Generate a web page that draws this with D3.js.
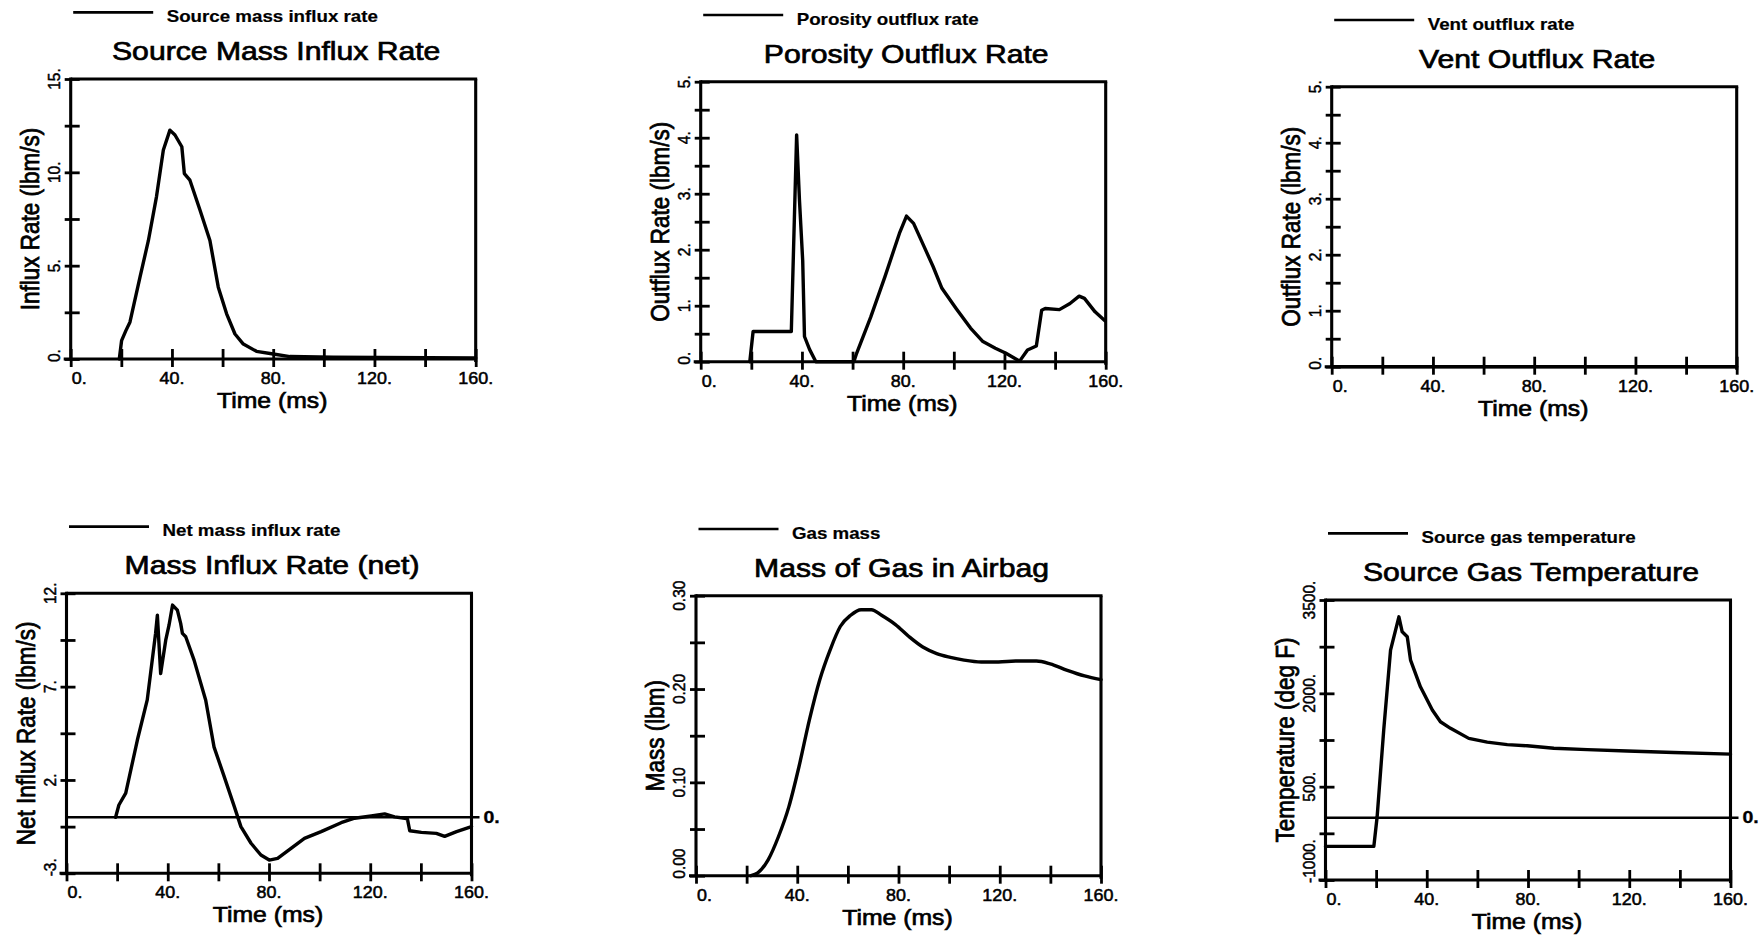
<!DOCTYPE html>
<html><head><meta charset="utf-8">
<script src="https://cdn.jsdelivr.net/npm/d3@7/dist/d3.min.js"></script>
<style>
body{margin:0;background:#fff}
svg{display:block}
text{font-family:"Liberation Sans", Arial, Helvetica, sans-serif;fill:#000}
</style></head><body>
<svg id="chart" width="1764" height="938"></svg>
<script>
// ---------------- data ----------------
const xTickValues = [0, 40, 80, 120, 160];
const xTickText = ["0.", "40.", "80.", "120.", "160."];

const sourceTime = [19.2, 20.1, 21.8, 23.4, 27.4, 30.7, 33.9, 36.6, 39.2, 41.2, 43.9, 44.9, 47.1, 51.1, 55.0, 58.3, 61.6, 64.9, 68.2, 73.4, 80, 86.6, 103.7, 160];
const sourceRate = [0, 0.98, 1.52, 1.97, 4.4, 6.35, 8.7, 11.2, 12.26, 12.0, 11.37, 9.93, 9.58, 7.97, 6.35, 3.85, 2.42, 1.34, 0.8, 0.41, 0.27, 0.13, 0.09, 0.05];
const sourceYTickValues = [0, 5, 10, 15];
const sourceYTickText = ["0.", "5.", "10.", "15."];

const porosityTime = [19.4, 20.7, 35.8, 37.9, 39.0, 40.3, 41.0, 43.0, 45.5, 60.5, 61.6, 67.2, 72.8, 78.5, 81.3, 84.1, 88.3, 91.8, 95.3, 100.9, 106.6, 111.5, 116.4, 120.6, 126, 129.1, 132.6, 134.7, 136.1, 141.7, 145.9, 149.5, 151.6, 155.8, 159.7];
const porosityRate = [0, 0.54, 0.54, 4.05, 2.9, 1.8, 0.45, 0.22, 0, 0, 0.15, 0.80, 1.52, 2.29, 2.60, 2.47, 2.05, 1.70, 1.31, 0.95, 0.60, 0.36, 0.24, 0.15, 0.01, 0.21, 0.28, 0.92, 0.95, 0.93, 1.04, 1.17, 1.13, 0.89, 0.73];
const porosityYTickValues = [0, 1, 2, 3, 4, 5];
const porosityYTickText = ["0.", "1.", "2.", "3.", "4.", "5."];

const ventTime = [0, 160];
const ventRate = [0, 0];
const ventYTickValues = [0, 1, 2, 3, 4, 5];
const ventYTickText = ["0.", "1.", "2.", "3.", "4.", "5."];

const netTime = [19.4, 20.7, 23.4, 28.0, 31.9, 35.2, 35.9, 37.2, 39.2, 40.5, 41.9, 43.8, 45.1, 45.8, 47.1, 50.4, 55.0, 58.3, 62.3, 66.3, 68.9, 72.9, 76.8, 80.1, 83.4, 88.7, 94.0, 100.6, 108.5, 113.8, 120.4, 125.7, 129.6, 133.6, 134.7, 135.6, 140.2, 146.1, 149.4, 154.1, 160];
const netRate = [0, 0.66, 1.29, 4.14, 6.29, 9.86, 10.83, 7.70, 9.49, 10.29, 11.37, 11.1, 10.39, 9.85, 9.67, 8.42, 6.27, 3.76, 2.18, 0.57, -0.5, -1.39, -2.02, -2.29, -2.2, -1.66, -1.13, -0.77, -0.29, -0.05, 0.07, 0.18, 0.02, -0.05, -0.1, -0.72, -0.81, -0.86, -1.02, -0.77, -0.5];
const netYTickValues = [-3, 2, 7, 12];
const netYTickText = ["-3.", "2.", "7.", "12."];

const gasTime = [21.7, 24.4, 28.5, 32.6, 36.7, 40.7, 44.8, 48.9, 53.0, 57.0, 61.1, 65.2, 69.3, 73.3, 78.8, 84.2, 89.6, 95.1, 100.5, 105.9, 112.7, 119.5, 126.3, 134.5, 139.9, 146.7, 153.5, 160];
const gasMass = [0, 0.003, 0.017, 0.042, 0.074, 0.117, 0.167, 0.21, 0.242, 0.267, 0.279, 0.285, 0.285, 0.279, 0.269, 0.256, 0.245, 0.238, 0.234, 0.231, 0.229, 0.229, 0.23, 0.23, 0.227, 0.22, 0.214, 0.21];
const gasYTickValues = [0, 0.1, 0.2, 0.3];
const gasYTickText = ["0.00", "0.10", "0.20", "0.30"];

const tempTime = [0, 19.1, 20.4, 23.0, 25.7, 29.0, 30.3, 32.3, 33.6, 37.5, 42.2, 45.4, 49.4, 56.6, 63.9, 71.8, 79.7, 90.2, 103.4, 119.2, 137.6, 160];
const tempValue = [-460, -460, 16, 1410, 2695, 3230, 2989, 2909, 2535, 2105, 1731, 1543, 1437, 1276, 1216, 1176, 1157, 1117, 1096, 1074, 1048, 1023];
const tempYTickValues = [-1000, 500, 2000, 3500];
const tempYTickText = ["-1000.", "500.", "2000.", "3500."];

// ---------------- layout ----------------
const W = 405, H = 280, K = 1.16;
const panels = [
  {title:"Source Mass Influx Rate", legend:"Source mass influx rate", ylab:"Influx Rate (lbm/s)",
   t:sourceTime, v:sourceRate, yd:[0,15], minor:2.5, yv:sourceYTickValues, yt:sourceYTickText, left:70.7, top:79, zero:false},
  {title:"Porosity Outflux Rate", legend:"Porosity outflux rate", ylab:"Outflux Rate (lbm/s)",
   t:porosityTime, v:porosityRate, yd:[0,5], minor:0.5, yv:porosityYTickValues, yt:porosityYTickText, left:700.7, top:81.7, zero:false},
  {title:"Vent Outflux Rate", legend:"Vent outflux rate", ylab:"Outflux Rate (lbm/s)",
   t:ventTime, v:ventRate, yd:[0,5], minor:0.5, yv:ventYTickValues, yt:ventYTickText, left:1331.7, top:86.7, zero:false},
  {title:"Mass Influx Rate (net)", legend:"Net mass influx rate", ylab:"Net Influx Rate (lbm/s)",
   t:netTime, v:netRate, yd:[-3,12], minor:2.5, yv:netYTickValues, yt:netYTickText, left:66.5, top:593.3, zero:true},
  {title:"Mass of Gas in Airbag", legend:"Gas mass", ylab:"Mass (lbm)",
   t:gasTime, v:gasMass, yd:[0,0.3], minor:0.05, yv:gasYTickValues, yt:gasYTickText, left:696, top:595.7, zero:false, smooth:true},
  {title:"Source Gas Temperature", legend:"Source gas temperature", ylab:"Temperature (deg F)",
   t:tempTime, v:tempValue, yd:[-1000,3500], minor:750, yv:tempYTickValues, yt:tempYTickText, left:1325.5, top:600, zero:true}
];

const svg = d3.select("#chart");

function hText(g, str, x, y, size, weight, anchor, k, sw){
  return g.append("text").text(str)
    .attr("transform", `translate(${x},${y}) scale(${k},1)`)
    .attr("font-size", size).attr("font-weight", weight)
    .attr("text-anchor", anchor)
    .attr("stroke", "#000").attr("stroke-width", sw || 0);
}
function vText(g, str, x, y, size, weight, anchor, k, sw){
  return g.append("text").text(str)
    .attr("transform", `translate(${x},${y}) scale(${k},1) rotate(-90)`)
    .attr("font-size", size).attr("font-weight", weight)
    .attr("text-anchor", anchor)
    .attr("stroke", "#000").attr("stroke-width", sw || 0);
}

panels.forEach(p => {
  const g = svg.append("g");
  const L = p.left, T = p.top, R = L + W, B = T + H;
  const x = d3.scaleLinear().domain([0,160]).range([L, R]);
  const y = d3.scaleLinear().domain(p.yd).range([B, T]);

  // legend
  g.append("line").attr("x1", L+2.5).attr("x2", L+82.5).attr("y1", T-66.7).attr("y2", T-66.7)
    .attr("stroke","#000").attr("stroke-width",2.7);
  hText(g, p.legend, L+96, T-57, 16, "bold", "start", 1.17, 0.2);

  // title
  hText(g, p.title, (L+R)/2+3, T-19, 26, "normal", "middle", K, 0.7);

  // frame
  const fw = 3.1;
  g.append("line").attr("x1", L).attr("x2", R+1.5).attr("y1", T).attr("y2", T).attr("stroke","#000").attr("stroke-width",fw);
  g.append("line").attr("x1", R).attr("x2", R).attr("y1", T).attr("y2", B+3).attr("stroke","#000").attr("stroke-width",fw);
  g.append("line").attr("x1", L).attr("x2", L).attr("y1", T-1.5).attr("y2", B).attr("stroke","#000").attr("stroke-width",fw);
  g.append("line").attr("x1", L-7).attr("x2", R).attr("y1", B).attr("y2", B).attr("stroke","#000").attr("stroke-width",fw);

  // x ticks
  const xa = g.append("g").attr("transform", `translate(0,${B})`)
    .call(d3.axisBottom(x).tickValues(d3.range(0,161,20)).tickFormat("").tickSizeOuter(0));
  xa.select(".domain").remove();
  xa.selectAll(".tick line").attr("y1",-10).attr("y2",8).attr("stroke","#000").attr("stroke-width",2.8);

  // y ticks
  const minorVals = d3.range(p.yd[0], p.yd[1] + p.minor/2, p.minor);
  const ya = g.append("g").attr("transform", `translate(${L},0)`)
    .call(d3.axisLeft(y).tickValues(minorVals).tickFormat("").tickSizeOuter(0));
  ya.select(".domain").remove();
  ya.selectAll(".tick line").attr("x1",-6).attr("x2",9).attr("stroke","#000").attr("stroke-width",2.8);

  // x tick labels
  xTickValues.forEach((tv, i) => {
    if (i === 0) hText(g, xTickText[i], x(tv)+1, B+25, 16, "normal", "start", 1.12, 0.5);
    else hText(g, xTickText[i], x(tv), B+25, 16, "normal", "middle", 1.12, 0.5);
  });
  // y tick labels
  p.yv.forEach((yv, i) => {
    if (i === 0) vText(g, p.yt[i], L-11, B+3, 15.5, "normal", "start", 1.1, 0.45);
    else vText(g, p.yt[i], L-11, y(yv), 15.5, "normal", "middle", 1.1, 0.45);
  });

  // axis titles
  hText(g, "Time (ms)", (L+R)/2 - 1, B+49, 22.5, "normal", "middle", 1.1, 0.7);
  vText(g, p.ylab, L-32, (T+B)/2, 22.5, "normal", "middle", 1.12, 0.7);

  // zero reference line
  if (p.zero) {
    g.append("line").attr("x1", L).attr("x2", R+8).attr("y1", y(0)).attr("y2", y(0))
      .attr("stroke","#000").attr("stroke-width",2.6);
    hText(g, "0.", R+12, y(0)+5.5, 17, "bold", "start", 1.15, 0.3);
  }

  // data
  const line = d3.line().x((d,i)=>x(p.t[i])).y(d=>y(d))
    .curve(p.smooth ? d3.curveMonotoneX : d3.curveLinear);
  g.append("path").attr("d", line(p.v)).attr("fill","none").attr("stroke","#000")
    .attr("stroke-width",3.4).attr("stroke-linejoin","round").attr("stroke-linecap","round");
});
</script>
</body></html>
